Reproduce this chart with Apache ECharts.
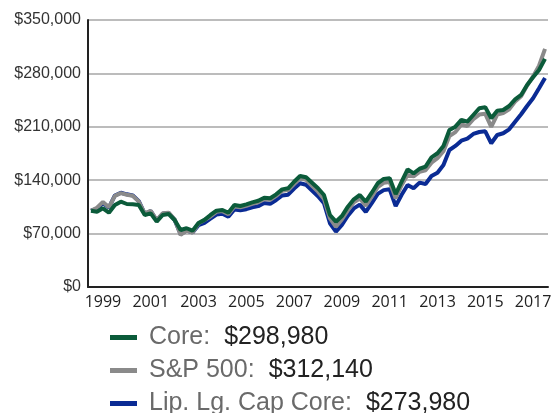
<!DOCTYPE html>
<html>
<head>
<meta charset="utf-8">
<script src="https://cdn.jsdelivr.net/npm/echarts@6/dist/echarts.min.js"></script>
<style>
  html, body { margin: 0; padding: 0; background: #fff; }
  #chart { width: 558px; height: 413px; }
</style>
</head>
<body>
<div id="chart"></div>
<script>
// quarter ends, Dec 1998 .. Dec 2017
var quarters = []
for (var y = 1998; y <= 2017; y++) {
    ['03', '06', '09', '12'].forEach(function (m) {
        if (y === 1998 && m !== '12') return
        quarters.push(y + '-' + m)
    })
}
var tickYears = ['1999', '2001', '2003', '2005', '2007', '2009', '2011', '2013', '2015', '2017']

var seriesNames = ['Core', 'S&P 500', 'Lip. Lg. Cap Core']
var endValues = [298980, 312140, 273980]

var core = [
    100000, 98700, 103200, 97400, 107500, 111800, 108800, 108400, 107500, 94400,
    96600, 85600, 94400, 95700, 87800, 74700, 77000, 73800, 84000, 88000,
    94400, 100000, 101000, 97400, 107500, 106200, 108400, 111000, 113000, 117000,
    116300, 121500, 128000, 129400, 138000, 145500, 143800, 136700, 129400, 120600,
    94400, 85600, 93000, 105300, 115000, 120600, 111800, 123600, 136000, 141600,
    142500, 121900, 138000, 154300, 149000, 155000, 157700, 170000, 175300, 184900,
    205800, 210200, 219000, 216700, 225500, 234300, 235600, 221200, 231100, 232000,
    237300, 246000, 251700, 264800, 274900, 284500, 298980
]
var sp500 = [
    100000, 104000, 111500, 104500, 119500, 123000, 121000, 119500, 112000, 96600,
    100000, 87800, 96600, 97400, 88800, 68200, 73800, 71200, 83500, 87800,
    92500, 98500, 99500, 95500, 105500, 104500, 106500, 109000, 111000, 115000,
    114300, 119500, 126000, 127000, 135000, 142500, 140500, 132500, 125000, 115500,
    90000, 79000, 88500, 100500, 111000, 116000, 106500, 118500, 131000, 136500,
    137500, 116300, 133500, 147000, 145000, 151000, 153000, 163000, 169000, 178000,
    198000, 203000, 213000, 211000, 220000, 226000, 227000, 210000, 226000, 228000,
    233000, 243000, 250000, 264000, 276000, 290000, 312140
]
var lipper = [
    100000, 102500, 110000, 104000, 120000, 123500, 121500, 120000, 112500, 96000,
    99500, 87000, 96000, 97000, 88000, 69500, 74000, 71500, 81000, 84000,
    89500, 95000, 96000, 92000, 101500, 100500, 102000, 104500, 106000, 110000,
    109000, 114000, 120000, 121000, 129000, 136000, 134000, 126500, 119000, 110000,
    83500, 72500, 81500, 93500, 103000, 108000, 98500, 110000, 122000, 127000,
    128000, 106200, 121000, 133700, 129400, 136800, 135000, 145500, 149900, 159900,
    179600, 184900, 191800, 194500, 200600, 203200, 204100, 188400, 199300, 201500,
    206700, 216700, 226400, 237300, 247400, 260500, 273980
]

var colors = ['#0b5b3a', '#8a8a8a', '#0a2b94']

function money(v) {
    return '$' + v.toString().replace(/\B(?=(\d{3})+(?!\d))/g, ',')
}

var myChart = echarts.init(document.getElementById('chart'))

function lineSeries(idx, data, z) {
    return {
        name: seriesNames[idx],
        type: 'line',
        data: data,
        z: z,
        symbol: 'none',
        smooth: false,
        color: colors[idx],
        lineStyle: { width: 4, color: colors[idx] }
    }
}

var option = {
    animation: false,
    grid: { left: 88, right: 10, top: 20, bottom: 126 },
    legend: {
        orient: 'vertical',
        left: 110,
        top: 325,
        height: 200,
        padding: 0,
        icon: 'rect',
        itemWidth: 27,
        itemHeight: 5,
        itemGap: 8,
        data: seriesNames,
        formatter: function (name) {
            var i = seriesNames.indexOf(name)
            return '{n|' + name + ':}{v|' + money(endValues[i]) + '}'
        },
        textStyle: {
            padding: [0, 0, 0, 7],
            rich: {
                n: { fontFamily: 'Liberation Sans', fontSize: 25, color: '#6a6a6a', lineHeight: 25 },
                v: { fontFamily: 'Liberation Sans', fontSize: 25, color: '#222', lineHeight: 25, padding: [0, 0, 0, 14] }
            }
        }
    },
    xAxis: {
        type: 'category',
        data: quarters,
        boundaryGap: true,
        axisLine: { lineStyle: { color: '#222', width: 2 } },
        axisTick: { show: false },
        splitLine: { show: false },
        axisLabel: {
            interval: function (index, value) {
                return value.slice(5) === '06' && tickYears.indexOf(value.slice(0, 4)) >= 0
            },
            formatter: function (value) { return value.slice(0, 4) },
            fontFamily: 'Open Sans',
            fontSize: 16,
            color: '#222',
            margin: 7
        }
    },
    yAxis: {
        type: 'value',
        min: 0,
        max: 350000,
        interval: 70000,
        axisLine: { show: true, lineStyle: { color: '#222', width: 2 } },
        axisTick: { show: false },
        splitLine: { lineStyle: { color: '#a6a6a6', width: 1.5 } },
        axisLabel: {
            formatter: money,
            fontFamily: 'Liberation Sans',
            fontSize: 16,
            color: '#333',
            margin: 7
        }
    },
    series: [
        lineSeries(2, lipper, 2),
        lineSeries(1, sp500, 3),
        lineSeries(0, core, 4)
    ]
}

myChart.setOption(option)
</script>
</body>
</html>
